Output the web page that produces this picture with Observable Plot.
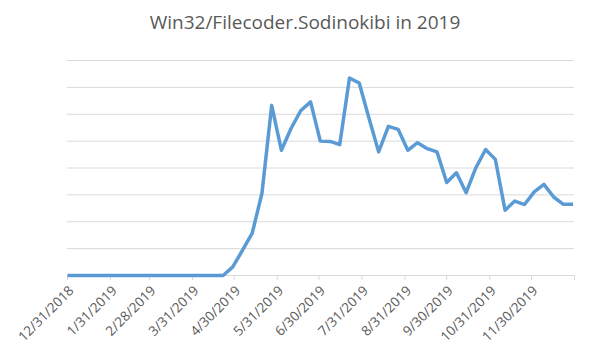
<!DOCTYPE html>
<html>
<head>
<meta charset="utf-8">
<script src="https://cdn.jsdelivr.net/npm/d3@7"></script>
<script src="https://cdn.jsdelivr.net/npm/@observablehq/plot@0.6"></script>
<style>
  html, body { margin: 0; padding: 0; background: #fff; }
  #title { width: 600px; height: 44px; line-height: 44px; text-align: center; font-family: "Open Sans", sans-serif; font-size: 19px; color: #595959; padding-left: 10px; box-sizing: border-box; }
</style>
</head>
<body>
<div id="title">Win32/Filecoder.Sodinokibi in 2019</div>
<div id="chart"></div>
<script>
const startDate = "2018-12-31";
const weeklyValues = [
  0, 0, 0, 0, 0, 0, 0, 0, 0, 0, 0, 0, 0, 0, 0, 0, 0,
  0.32, 0.94, 1.58, 3.06, 6.33, 4.66, 5.48, 6.14, 6.46, 5.0,
  4.99, 4.87, 7.35, 7.16, 5.86, 4.6, 5.55, 5.44, 4.66, 4.94,
  4.72, 4.6, 3.46, 3.82, 3.08, 4.01, 4.69, 4.32, 2.43, 2.77,
  2.64, 3.11, 3.39, 2.92, 2.65, 2.65
];
const tickDates = ["2018-12-31","2019-01-31","2019-02-28","2019-03-31","2019-04-30","2019-05-31","2019-06-30","2019-07-31","2019-08-31","2019-09-30","2019-10-31","2019-11-30","2019-12-31"];
const tickLabels = ["12/31/2018","1/31/2019","2/28/2019","3/31/2019","4/30/2019","5/31/2019","6/30/2019","7/31/2019","8/31/2019","9/30/2019","10/31/2019","11/30/2019",""];
const gridValues = [1, 2, 3, 4, 5, 6, 7, 8];

const start = new Date(startDate + "T00:00:00Z");
const data = weeklyValues.map((v, i) => ({date: d3.utcDay.offset(start, 7 * i), value: v}));
const ticks = tickDates.map(s => new Date(s + "T00:00:00Z"));
const labelOf = new Map(ticks.map((t, i) => [+t, tickLabels[i]]));

const chart = Plot.plot({
  width: 600,
  height: 314,
  marginTop: 16,
  marginBottom: 83,
  marginLeft: 67,
  marginRight: 26,
  style: {fontFamily: "Open Sans, sans-serif", color: "#595959", background: "#fff"},
  x: {type: "utc", domain: [ticks[0], ticks[ticks.length - 1]]},
  y: {domain: [0, 8], axis: null},
  marks: [
    Plot.ruleY(gridValues, {stroke: "#d9d9d9", strokeWidth: 1, strokeOpacity: 1}),
    Plot.ruleY([0], {stroke: "#d9d9d9", strokeWidth: 1, strokeOpacity: 1}),
    Plot.axisX({
      ticks: ticks,
      tickFormat: d => labelOf.get(+d),
      tickSize: 5,
      stroke: "#d9d9d9",
      strokeOpacity: 1,
      text: null,
      label: null
    }),
    Plot.axisX({
      ticks: ticks,
      tickFormat: d => labelOf.get(+d),
      tickRotate: -45,
      tickSize: 0,
      tickPadding: 13,
      dx: 4,
      fill: "#595959",
      fontSize: 13.5,
      label: null
    }),
    Plot.line(data, {x: "date", y: "value", stroke: "#5B9BD5", strokeWidth: 3.5, strokeLinejoin: "round", strokeLinecap: "butt"})
  ]
});
document.getElementById("chart").appendChild(chart);
</script>
</body>
</html>
